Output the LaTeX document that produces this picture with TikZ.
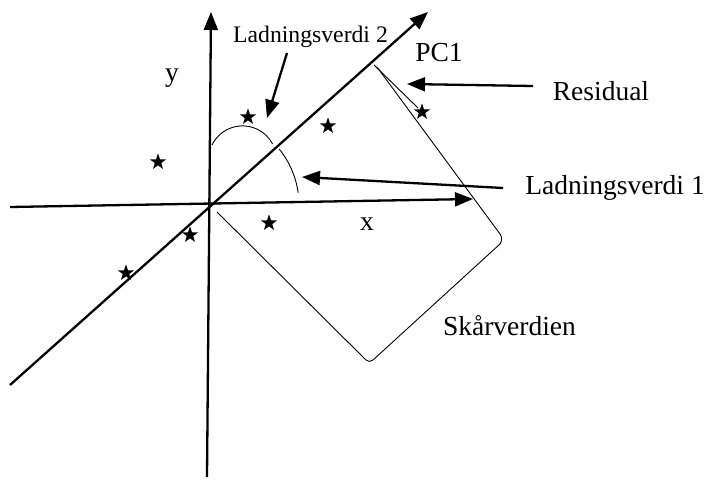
\documentclass[tikz,border=0pt]{standalone}
\usepackage{fontspec}
\setmainfont{Liberation Serif}
\usetikzlibrary{arrows.meta,shapes.geometric}

\begin{document}
\begin{tikzpicture}[x=1pt, y=1pt, >={Triangle[length=18pt,width=14pt]},
    axis/.style={line width=2.3pt},
    fine/.style={line width=0.9pt},
    obs/.style={star, star points=5, star point ratio=2.5, fill, inner sep=0pt, minimum size=17pt},
    lbl/.style={font=\fontsize{27.5}{30}\selectfont, inner sep=0pt, anchor=base}]
    \useasboundingbox (0,0) rectangle (709,480);

    \coordinate (O) at (210,275);
    \coordinate (xl) at (10,273);
    \coordinate (xr) at (473,281);
    \coordinate (yb) at (207,3);
    \coordinate (yt) at (211,468);
    \coordinate (pl) at (10,95);
    \coordinate (pr) at (428,468);

    \draw[axis, ->] (xl) -- (xr);
    \draw[axis, ->] (yb) -- (yt);
    \draw[axis, ->] (pl) -- (pr);

    \node[lbl] (px) at (367,250) {x};
    \node[lbl] (py) at (172,398) {y};
    \node[lbl] (pc) at (439,418) {PC1};
    \node[lbl] (res) at (601,379) {Residual};
    \node[lbl] (l1) at (615,285) {Ladningsverdi 1};
    \node[lbl, font=\fontsize{23.7}{26}\selectfont] (l2) at (310.5,437) {Ladningsverdi 2};
    \node[lbl] (sk) at (509.5,145) {Skårverdien};

    \coordinate (r0) at (533,394);
    \coordinate (r1) at (407,396);
    \coordinate (a0) at (503,292);
    \coordinate (a1) at (302,303);
    \coordinate (b0) at (287,427);
    \coordinate (b1) at (267,362);

    \draw[axis, ->] (r0) -- (r1);
    \draw[axis, ->] (a0) -- (a1);
    \draw[axis, ->] (b0) -- (b1);

    \foreach \sx/\sy in {248/363, 328/354, 158/318, 422/368, 190/245, 269/257, 126/207}
        \node[obs] (s\sx) at (\sx,\sy) {};

    \draw[fine] (374,415) -- (418,372);
    \draw[fine] (377,413) -- (500,246) to[out=-55, in=60] (500,236) -- (373,120)
        to[out=-135, in=-45] (366,120) -- (217,268);

    \draw[fine] (212,335) arc[start angle=154, end angle=28, radius=34];
    \draw[fine] (O) ++(39:89) arc[start angle=39, end angle=8, radius=89];
\end{tikzpicture}
\end{document}
